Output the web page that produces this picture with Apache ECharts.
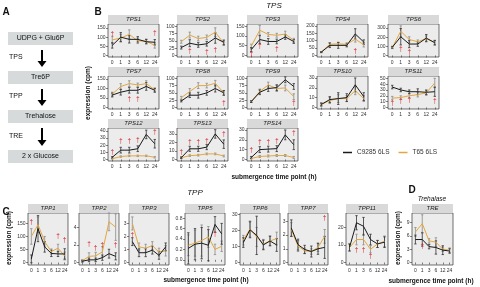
<!DOCTYPE html>
<html><head><meta charset="utf-8">
<script src="https://cdn.jsdelivr.net/npm/echarts@6/dist/echarts.min.js"></script>
<style>html,body{margin:0;padding:0;background:#fff}#c{width:480px;height:287px}</style>
</head><body><div id="c"></div>
<script>
// ---------- DATA ----------
const timePoints = ['0','1','3','6','12','24'];
const seriesNames = ['C9285 6LS','T65 6LS'];

const TPS1_C = [55, 100, 88, 88, 75, 72];   const TPS1_T = [85, 95, 115, 80, 78, 55];
const TPS1_Ce = [15, 25, 20, 15, 12, 15];   const TPS1_Te = [20, 20, 25, 15, 12, 15];
const TPS2_C = [27, 42, 36, 40, 60, 45];    const TPS2_T = [47, 70, 58, 62, 80, 42];
const TPS2_Ce = [5, 12, 8, 8, 18, 8];       const TPS2_Te = [5, 10, 8, 8, 15, 8];
const TPS3_C = [30, 82, 72, 72, 95, 72];    const TPS3_T = [48, 130, 108, 104, 110, 78];
const TPS3_Ce = [10, 20, 15, 12, 12, 10];   const TPS3_Te = [10, 25, 10, 10, 15, 10];
const TPS4_C = [22, 68, 68, 68, 145, 90];   const TPS4_T = [22, 75, 78, 75, 110, 72];
const TPS4_Ce = [3, 15, 20, 10, 35, 15];    const TPS4_Te = [3, 12, 10, 10, 20, 15];
const TPS6_C = [90, 205, 125, 125, 190, 140]; const TPS6_T = [85, 265, 175, 150, 185, 140];
const TPS6_Ce = [10, 90, 40, 25, 40, 25];   const TPS6_Te = [10, 60, 30, 20, 30, 25];
const TPS7_C = [65, 80, 90, 90, 110, 90];   const TPS7_T = [70, 110, 125, 118, 125, 92];
const TPS7_Ce = [10, 15, 15, 15, 20, 10];   const TPS7_Te = [10, 15, 15, 10, 15, 10];
const TPS8_C = [22, 42, 42, 50, 65, 50];    const TPS8_T = [33, 55, 75, 75, 83, 50];
const TPS8_Ce = [3, 8, 10, 8, 12, 8];       const TPS8_Te = [5, 10, 10, 8, 10, 8];
const TPS9_C = [20, 52, 65, 68, 95, 72];    const TPS9_T = [20, 55, 77, 65, 67, 37];
const TPS9_Ce = [3, 8, 10, 10, 10, 10];     const TPS9_Te = [3, 8, 10, 10, 10, 10];
const TPS10_C = [3, 8, 9, 10, 23, 11];      const TPS10_T = [3, 7, 9, 9, 17, 9];
const TPS10_Ce = [1.5, 3, 6, 4, 7, 4];      const TPS10_Te = [1.5, 3, 4, 3, 4, 3];
const TPS11_C = [35, 30, 27, 27, 26, 27];   const TPS11_T = [16, 17, 20, 22, 25, 42];
const TPS11_Ce = [3, 3, 3, 5, 4, 8];        const TPS11_Te = [3, 3, 3, 4, 4, 8];
const TPS12_C = [3, 13, 13, 15, 35, 22];    const TPS12_T = [1, 4, 5, 5, 5, 3];
const TPS12_Ce = [1, 4, 4, 4, 6, 6];        const TPS12_Te = [0.5, 1, 1, 1, 1, 1];
const TPS13_C = [2, 12.5, 12.5, 14.5, 30, 18]; const TPS13_T = [2, 4.5, 5, 6.5, 6.5, 4];
const TPS13_Ce = [1, 3, 3, 3, 5, 5];        const TPS13_Te = [0.5, 1, 1, 1, 1, 1];
const TPS14_C = [2, 10, 10.5, 11, 25, 15];  const TPS14_T = [1, 3, 3.5, 4, 4, 2];
const TPS14_Ce = [1, 3, 3, 3, 5, 5];        const TPS14_Te = [0.5, 1, 1, 1, 1, 1];

const TPP1_C = [14, 130, 60, 35, 33, 33];   const TPP1_T = [100, 145, 80, 42, 55, 25];
const TPP1_Ce = [15, 50, 20, 12, 10, 20];   const TPP1_Te = [30, 30, 20, 10, 15, 15];
const TPP2_C = [0.15, 0.3, 0.3, 0.55, 1.0, 0.7]; const TPP2_T = [0.2, 0.7, 0.75, 1.2, 4.6, 4.0];
const TPP2_Ce = [0.1, 0.2, 0.2, 0.3, 0.5, 0.4]; const TPP2_Te = [0.1, 0.4, 0.4, 0.6, 1.0, 1.5];
const TPP3_C = [1.6, 0.75, 0.75, 0.95, 0.55, 1.2]; const TPP3_T = [3.0, 1.2, 1.1, 1.3, 0.8, 0.9];
const TPP3_Ce = [0.3, 0.3, 0.3, 0.3, 0.3, 0.3]; const TPP3_Te = [0.5, 0.3, 0.3, 0.3, 0.3, 0.4];
const TPP5_C = [0.22, 0.3, 0.32, 0.28, 0.68, 0.5]; const TPP5_T = [0.28, 0.32, 0.37, 0.44, 0.2, 0.26];
const TPP5_Ce = [0.3, 0.3, 0.3, 0.3, 0.15, 0.2]; const TPP5_Te = [0.2, 0.25, 0.3, 0.2, 0.1, 0.1];
const TPP6_C = [12.5, 20.5, 17, 11, 13.5, 11]; const TPP6_T = [14, 21, 16, 11.5, 13.5, 15];
const TPP6_Ce = [3, 5, 12, 3, 3, 4];        const TPP6_Te = [3, 5, 6, 3, 3, 4];
const TPP7_C = [2.5, 1.3, 0.95, 0.8, 1.0, 1.1]; const TPP7_T = [2.4, 1.2, 0.85, 0.8, 1.1, 1.9];
const TPP7_Ce = [0.6, 0.4, 0.3, 0.4, 0.4, 0.8]; const TPP7_Te = [0.5, 0.4, 0.2, 0.2, 0.3, 0.5];
const TPP11_C = [8.5, 22.5, 20.5, 13, 10.5, 11.5]; const TPP11_T = [8.5, 13, 13, 7.5, 10.5, 12];
const TPP11_Ce = [2, 4, 5, 3, 2, 3];        const TPP11_Te = [2, 3, 3, 2, 2, 3];
const TRE_C = [5.2, 5.2, 3.6, 3.4, 2.8, 2.6]; const TRE_T = [6.9, 8.8, 4.9, 4.6, 3.0, 2.8];
const TRE_Ce = [1, 1.5, 0.5, 1.5, 1, 0.5];  const TRE_Te = [1, 2, 0.5, 1, 0.5, 0.5];

// significance daggers: [time index, y value]
const TPS1_dag = [[0, 118], [5, 122]];
const TPS2_dag = [[1, 16], [3, 12], [4, 18]];
const TPS3_dag = [[0, 8], [1, 45], [3, 33]];
const TPS4_dag = [[4, 28]];
const TPS6_dag = [[1, 65], [2, 30]];
const TPS7_dag = [[2, 42], [3, 42]];
const TPS8_dag = [[5, 15]];
const TPS9_dag = [[5, 15]];
const TPS10_dag = [];
const TPS11_dag = [[0, 7], [1, 10], [2, 13], [5, 10]];
const TPS12_dag = [[0, 10], [1, 25], [2, 25], [3, 27], [5, 38]];
const TPS13_dag = [[0, 8.5], [1, 20], [2, 20], [3, 21], [5, 30]];
const TPS14_dag = [[0, 9], [1, 18], [2, 18], [3, 19], [5, 27]];
const TPP1_dag = [[0, 155], [4, 100], [5, 87]];
const TPP2_dag = [[1, 2.1], [2, 1.6], [3, 2.0], [5, 2.0]];
const TPP3_dag = [[0, 2.1]];
const TPP5_dag = [[4, 0.5]];
const TPP6_dag = [];
const TPP7_dag = [[5, 3.2]];
const TPP11_dag = [[1, 7.2], [2, 7.2], [3, 3.5]];
const TRE_dag = [[1, 3.8]];

// tick labels
const ticks150 = [0, 50, 100, 150];
const ticks100 = [0, 25, 50, 75, 100];
const ticks200 = [0, 50, 100, 150, 200];
const ticks300 = [0, 100, 200, 300];
const ticks30 = [0, 10, 20, 30];
const ticks50 = [0, 10, 20, 30, 40, 50];
const ticks40 = [0, 10, 20, 30, 40];
const ticksTPP2 = [0, 2, 4];
const ticks3 = [0, 1, 2, 3];
const ticksTPP5 = [0, 0.2, 0.4, 0.6, 0.8];
const ticksTPP11 = [0, 10, 20];
const ticksTRE = [0, 3, 6, 9];

// ---------- LAYOUT ----------
const FONT = '"Liberation Sans", Arial, sans-serif';
const BX = [108, 177, 247, 317, 388], BW = 51, BY = [24, 76, 128], BH = 33;
const CX = [28, 79, 129, 185, 240, 288, 346], CW = 40, CY = 213, CH = 52;

const panels = [
  {n:'TPS1', c:TPS1_C, t:TPS1_T, ce:TPS1_Ce, te:TPS1_Te, d:TPS1_dag, tk:ticks150, max:172, x:BX[0], y:BY[0], w:BW, h:BH},
  {n:'TPS2', c:TPS2_C, t:TPS2_T, ce:TPS2_Ce, te:TPS2_Te, d:TPS2_dag, tk:ticks100, max:108, x:BX[1], y:BY[0], w:BW, h:BH},
  {n:'TPS3', c:TPS3_C, t:TPS3_T, ce:TPS3_Ce, te:TPS3_Te, d:TPS3_dag, tk:ticks150, max:162, x:BX[2], y:BY[0], w:BW, h:BH},
  {n:'TPS4', c:TPS4_C, t:TPS4_T, ce:TPS4_Ce, te:TPS4_Te, d:TPS4_dag, tk:ticks200, max:212, x:BX[3], y:BY[0], w:BW, h:BH},
  {n:'TPS6', c:TPS6_C, t:TPS6_T, ce:TPS6_Ce, te:TPS6_Te, d:TPS6_dag, tk:ticks300, max:345, x:BX[4], y:BY[0], w:BW, h:BH},
  {n:'TPS7', c:TPS7_C, t:TPS7_T, ce:TPS7_Ce, te:TPS7_Te, d:TPS7_dag, tk:ticks150, max:165, x:BX[0], y:BY[1], w:BW, h:BH},
  {n:'TPS8', c:TPS8_C, t:TPS8_T, ce:TPS8_Ce, te:TPS8_Te, d:TPS8_dag, tk:ticks100, max:108, x:BX[1], y:BY[1], w:BW, h:BH},
  {n:'TPS9', c:TPS9_C, t:TPS9_T, ce:TPS9_Ce, te:TPS9_Te, d:TPS9_dag, tk:ticks100, max:108, x:BX[2], y:BY[1], w:BW, h:BH},
  {n:'TPS10', c:TPS10_C, t:TPS10_T, ce:TPS10_Ce, te:TPS10_Te, d:TPS10_dag, tk:ticks30, max:32, x:BX[3], y:BY[1], w:BW, h:BH},
  {n:'TPS11', c:TPS11_C, t:TPS11_T, ce:TPS11_Ce, te:TPS11_Te, d:TPS11_dag, tk:ticks50, max:54, x:BX[4], y:BY[1], w:BW, h:BH},
  {n:'TPS12', c:TPS12_C, t:TPS12_T, ce:TPS12_Ce, te:TPS12_Te, d:TPS12_dag, tk:ticks40, max:44, x:BX[0], y:BY[2], w:BW, h:BH},
  {n:'TPS13', c:TPS13_C, t:TPS13_T, ce:TPS13_Ce, te:TPS13_Te, d:TPS13_dag, tk:ticks30, max:37, x:BX[1], y:BY[2], w:BW, h:BH},
  {n:'TPS14', c:TPS14_C, t:TPS14_T, ce:TPS14_Ce, te:TPS14_Te, d:TPS14_dag, tk:ticks30, max:32, x:BX[2], y:BY[2], w:BW, h:BH},
  {n:'TPP1', c:TPP1_C, t:TPP1_T, ce:TPP1_Ce, te:TPP1_Te, d:TPP1_dag, tk:ticks150, max:190, x:CX[0], y:CY, w:CW, h:CH},
  {n:'TPP2', c:TPP2_C, t:TPP2_T, ce:TPP2_Ce, te:TPP2_Te, d:TPP2_dag, tk:ticksTPP2, max:5.6, x:CX[1], y:CY, w:CW, h:CH},
  {n:'TPP3', c:TPP3_C, t:TPP3_T, ce:TPP3_Ce, te:TPP3_Te, d:TPP3_dag, tk:ticks3, max:3.8, x:CX[2], y:CY, w:CW, h:CH},
  {n:'TPP5', c:TPP5_C, t:TPP5_T, ce:TPP5_Ce, te:TPP5_Te, d:TPP5_dag, tk:ticksTPP5, max:0.9, min:-0.1, dec:1, x:CX[3], y:CY, w:CW, h:CH},
  {n:'TPP6', c:TPP6_C, t:TPP6_T, ce:TPP6_Ce, te:TPP6_Te, d:TPP6_dag, tk:ticks30, max:31, x:CX[4], y:CY, w:CW, h:CH},
  {n:'TPP7', c:TPP7_C, t:TPP7_T, ce:TPP7_Ce, te:TPP7_Te, d:TPP7_dag, tk:ticks3, max:3.6, x:CX[5], y:CY, w:CW, h:CH},
  {n:'TPP11', c:TPP11_C, t:TPP11_T, ce:TPP11_Ce, te:TPP11_Te, d:TPP11_dag, tk:ticksTPP11, max:28, x:CX[6], y:CY, w:CW + 2, h:CH},
  {n:'TRE', c:TRE_C, t:TRE_T, ce:TRE_Ce, te:TRE_Te, d:TRE_dag, tk:ticksTRE, max:11.2, x:412, y:CY, w:41, h:CH}
];

const BLACK = '#1a1a1a', GOLD = '#e3a73f', RED = '#d9262b';
const grids = [], xAxes = [], yAxes = [], series = [], graphics = [];

function errRender(color) {
  return function (params, api) {
    const i = api.value(0);
    const lo = api.coord([i, api.value(1)]);
    const hi = api.coord([i, api.value(2)]);
    const cap = 1.2;
    return {type: 'group', children: [
      {type: 'line', shape: {x1: lo[0], y1: lo[1], x2: hi[0], y2: hi[1]}, style: {stroke: color, lineWidth: 0.8}},
      {type: 'line', shape: {x1: lo[0]-cap, y1: lo[1], x2: lo[0]+cap, y2: lo[1]}, style: {stroke: color, lineWidth: 0.8}},
      {type: 'line', shape: {x1: hi[0]-cap, y1: hi[1], x2: hi[0]+cap, y2: hi[1]}, style: {stroke: color, lineWidth: 0.8}}
    ]};
  };
}

panels.forEach((p, k) => {
  grids.push({left: p.x, top: p.y, width: p.w, height: p.h, show: true,
    backgroundColor: '#ececec', borderColor: '#333', borderWidth: 0.7, containLabel: false});
  xAxes.push({type: 'category', gridIndex: k, data: timePoints, boundaryGap: true,
    axisLine: {show: false}, axisTick: {show: true, alignWithLabel: true, length: 2, lineStyle: {color: '#333', width: 0.6}},
    axisLabel: {interval: 0, fontSize: 5, color: '#333', margin: 3, fontFamily: FONT}, splitLine: {show: false}});
  const mn = (p.min !== undefined) ? p.min : -p.max * 0.05;
  yAxes.push({type: 'value', gridIndex: k, min: mn, max: p.max,
    axisLine: {show: false},
    axisTick: {show: true, length: 2, lineStyle: {color: '#333', width: 0.6}, customValues: p.tk},
    axisLabel: {fontSize: 5, color: '#333', margin: 2.5, fontFamily: FONT, customValues: p.tk,
      formatter: p.dec ? (v => v.toFixed(p.dec)) : (v => String(v))},
    splitLine: {show: false}});
  const mk = (vals, errs) => vals.map((v, i) => [i, v - errs[i], v + errs[i]]);
  series.push({type: 'custom', name: seriesNames[1], xAxisIndex: k, yAxisIndex: k, renderItem: errRender('#8a8a8a'),
    itemStyle: {color: GOLD}, data: mk(p.t, p.te), z: 2, silent: true});
  series.push({type: 'custom', name: seriesNames[0], xAxisIndex: k, yAxisIndex: k, renderItem: errRender('#333'),
    itemStyle: {color: BLACK}, data: mk(p.c, p.ce), z: 2, silent: true});
  series.push({type: 'line', name: seriesNames[1], xAxisIndex: k, yAxisIndex: k, data: p.t, showSymbol: false,
    lineStyle: {color: GOLD, width: 1}, itemStyle: {color: GOLD}, z: 3, animation: false});
  series.push({type: 'line', name: seriesNames[0], xAxisIndex: k, yAxisIndex: k, data: p.c, showSymbol: false,
    lineStyle: {color: BLACK, width: 1}, itemStyle: {color: BLACK}, z: 4, animation: false});
  if (p.d.length) {
    series.push({type: 'scatter', xAxisIndex: k, yAxisIndex: k, data: p.d, symbolSize: 0, z: 5, silent: true,
      label: {show: true, position: 'inside', formatter: '\u2020', color: RED, fontSize: 6.5, fontWeight: 'bold', fontFamily: FONT}});
  }
  // strip header
  graphics.push({type: 'rect', shape: {x: p.x, y: p.y - 9, width: p.w, height: 9}, style: {fill: '#d9d9d9'}});
  graphics.push({type: 'text', style: {text: p.n, x: p.x + p.w / 2, y: p.y - 4.5, textAlign: 'center', textVerticalAlign: 'middle',
    font: 'italic 6px ' + FONT, fill: '#222'}});
});

// panel labels and titles
function txt(s, x, y, font, extra) {
  graphics.push(Object.assign({type: 'text', style: {text: s, x: x, y: y, textAlign: 'center', textVerticalAlign: 'middle', font: font, fill: '#111'}}, extra || {}));
}
txt('A', 6, 12, 'bold 10px ' + FONT);
txt('B', 98, 12, 'bold 10px ' + FONT);
txt('C', 6, 212, 'bold 10px ' + FONT);
txt('D', 412, 190, 'bold 10px ' + FONT);
txt('TPS', 274, 6, 'italic 8px ' + FONT);
txt('TPP', 195, 193, 'italic 8px ' + FONT);
txt('Trehalase', 432, 199, 'italic 6.5px ' + FONT);
txt('submergence time point (h)', 274, 177, 'bold 6.5px ' + FONT);
txt('submergence time point (h)', 206, 280, 'bold 6.5px ' + FONT);
txt('submergence time point (h)', 431, 281, 'bold 6.5px ' + FONT);
graphics.push({type: 'text', x: 88, y: 93, rotation: Math.PI / 2, style: {text: 'expression (cpm)', x: 0, y: 0, textAlign: 'center', textVerticalAlign: 'middle', font: 'bold 6.5px ' + FONT, fill: '#111'}});
graphics.push({type: 'text', x: 9, y: 238, rotation: Math.PI / 2, style: {text: 'expression (cpm)', x: 0, y: 0, textAlign: 'center', textVerticalAlign: 'middle', font: 'bold 6.5px ' + FONT, fill: '#111'}});
graphics.push({type: 'text', x: 398, y: 238, rotation: Math.PI / 2, style: {text: 'expression (cpm)', x: 0, y: 0, textAlign: 'center', textVerticalAlign: 'middle', font: 'bold 6.5px ' + FONT, fill: '#111'}});

// panel A pathway
const pathBoxes = ['UDPG + Glu6P', 'Tre6P', 'Trehalose', '2 x Glucose'];
const pathEnzymes = ['TPS', 'TPP', 'TRE'];
const boxY = [32, 71, 110, 150];
pathBoxes.forEach((b, i) => {
  graphics.push({type: 'rect', shape: {x: 8, y: boxY[i], width: 65, height: 13}, style: {fill: '#d6dada'}});
  txt(b, 40.5, boxY[i] + 6.5, '7px ' + FONT, {});
});
pathEnzymes.forEach((e, i) => {
  const y0 = boxY[i] + 18, y1 = boxY[i + 1] - 4;
  graphics.push({type: 'text', style: {text: e, x: 9, y: (y0 + y1) / 2 - 1, textAlign: 'left', textVerticalAlign: 'middle', font: '7px ' + FONT, fill: '#111'}});
  graphics.push({type: 'line', shape: {x1: 42, y1: y0, x2: 42, y2: y1 - 5}, style: {stroke: '#000', lineWidth: 2}});
  graphics.push({type: 'polygon', shape: {points: [[37.5, y1 - 6], [46.5, y1 - 6], [42, y1]]}, style: {fill: '#000'}});
});

const chart = echarts.init(document.getElementById('c'), null, {renderer: 'canvas'});
chart.setOption({
  animation: false,
  grid: grids, xAxis: xAxes, yAxis: yAxes, series: series, graphic: graphics,
  legend: {data: [{name: seriesNames[0], itemStyle: {color: BLACK}}, {name: seriesNames[1], itemStyle: {color: GOLD}}],
    left: 338, top: 144, itemWidth: 9, itemHeight: 1.5, icon: 'rect',
    itemGap: 9, textStyle: {fontSize: 6.5, color: '#333', fontFamily: FONT}, selectedMode: false},
  color: [BLACK, GOLD]
});
</script></body></html>
